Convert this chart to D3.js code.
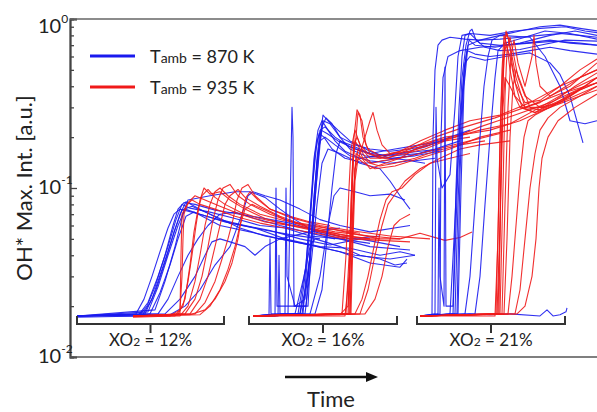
<!DOCTYPE html>
<html><head><meta charset="utf-8">
<script src="https://cdn.jsdelivr.net/npm/d3@7"></script>
<style>body{margin:0;background:#fff}svg{display:block}text{font-family:Lato,"Open Sans",sans-serif;fill:#222}</style>
</head><body>
<svg id="chart" width="597" height="412"></svg>
<script>
// ---------- DATA (time in a.u., OH* max intensity in a.u.) ----------
const blue12 = [
 [[7,.0175],[68,.0175],[78,.021],[88,.03],[98,.045],[106,.065],[112,.08],[120,.076],[140,.072],[165,.066],[190,.06],[215,.058],[240,.052],[270,.05],[300,.047]],
 [[7,.0172],[72,.0175],[82,.022],[92,.033],[102,.05],[110,.07],[116,.083],[130,.075],[150,.065],[175,.06],[200,.056],[230,.05],[260,.046],[290,.05],[330,.045]],
 [[7,.0175],[75,.018],[86,.025],[96,.038],[104,.055],[112,.074],[122,.078],[145,.068],[170,.058],[195,.052],[225,.048],[255,.044],[285,.04],[320,.038],[345,.04]],
 [[7,.0175],[80,.018],[90,.024],[100,.035],[108,.05],[116,.068],[124,.072],[150,.06],[180,.055],[210,.05],[240,.046],[270,.042],[300,.036],[330,.034],[337,.038]],
 [[7,.0175],[100,.0178],[115,.02],[130,.025],[145,.035],[160,.045],[172,.07],[178,.09],[183,.095],[195,.09],[210,.085],[230,.075],[250,.065],[270,.06],[300,.055],[340,.06]],
 [[7,.0175],[95,.018],[110,.022],[125,.03],[135,.04],[142,.048],[150,.05],[160,.048],[175,.045],[185,.04],[195,.045],[210,.05],[240,.055],[270,.058]],
 [[7,.0175],[85,.019],[95,.028],[105,.045],[113,.07],[118,.085],[140,.09],[165,.095],[180,.095],[195,.088],[210,.075],[225,.065],[245,.055],[270,.05],[300,.045],[340,.043]],
 [[7,.0175],[70,.0178],[77,.02],[85,.026],[95,.04],[103,.06],[108,.075],[114,.082],[125,.08],[145,.074],[170,.07],[195,.066],[220,.062],[250,.055],[280,.05],[310,.052]],
 [[7,.0175],[88,.018],[98,.022],[108,.03],[118,.04],[128,.05],[138,.06],[150,.07],[165,.072],[185,.066],[210,.06],[235,.055],[265,.05]],
 [[7,.0175],[78,.0185],[88,.026],[98,.04],[108,.06],[115,.075],[130,.07],[155,.063],[185,.058],[215,.05],[250,.045],[280,.044],[310,.04],[330,.042],[345,.04]],
 [[7,.0175],[66,.018],[74,.022],[82,.03],[90,.042],[98,.058],[104,.07],[110,.075],[130,.07],[160,.062],[190,.057],[220,.053],[250,.05]]
];
const red12 = [
 [[63,.0175],[100,.0175],[110,.019],[112,.03],[113,.05],[114,.07],[118,.082],[125,.09],[135,.085],[150,.078],[170,.07],[195,.063],[220,.06],[250,.055],[280,.05],[310,.049],[340,.048]],
 [[63,.0172],[105,.0175],[113,.02],[118,.028],[122,.04],[126,.06],[130,.085],[134,.1],[140,.092],[150,.095],[160,.085],[175,.075],[195,.066],[220,.06],[250,.056],[280,.052]],
 [[63,.0175],[110,.0175],[118,.02],[125,.028],[130,.04],[135,.06],[140,.08],[145,.095],[150,.1],[158,.09],[170,.08],[190,.07],[215,.064],[245,.06],[275,.055],[310,.05]],
 [[63,.0175],[115,.018],[125,.022],[132,.03],[138,.045],[143,.065],[148,.085],[153,.1],[160,.105],[168,.09],[180,.08],[200,.07],[225,.062],[255,.058],[290,.054]],
 [[63,.0175],[120,.018],[130,.022],[138,.03],[145,.045],[150,.06],[155,.08],[160,.09],[168,.098],[175,.088],[190,.078],[210,.068],[235,.06],[265,.055],[300,.052],[330,.05]],
 [[63,.0175],[125,.018],[135,.021],[145,.028],[152,.038],[158,.05],[163,.065],[167,.085],[172,.1],[178,.105],[185,.09],[200,.075],[220,.067],[250,.06],[280,.056],[320,.052],[360,.05]],
 [[63,.0175],[130,.0178],[140,.02],[150,.025],[158,.033],[165,.045],[170,.06],[175,.075],[182,.08],[195,.074],[215,.065],[240,.058],[270,.052],[300,.05],[330,.05],[350,.054],[375,.049],[390,.051],[402,.055]],
 [[63,.0175],[120,.0178],[135,.019],[145,.022],[155,.028],[162,.036],[168,.05],[172,.07],[176,.088],[180,.095],[188,.085],[200,.075],[220,.068],[240,.063],[260,.06]],
 [[63,.0175],[108,.0178],[115,.022],[120,.035],[124,.055],[128,.075],[132,.09],[138,.098],[145,.088],[155,.08],[170,.072],[190,.066],[210,.062],[240,.058],[270,.053],[300,.05]],
 [[63,.0175],[110,.018],[111,.04],[112,.07],[116,.078],[122,.085],[130,.08],[145,.075],[165,.068],[190,.062],[215,.058],[245,.054],[275,.05]]
];
const blue16 = [
 [[183,.0175],[199,.0175],[200,.05],[201,.018],[230,.018],[235,.03],[240,.07],[244,.15],[248,.22],[252,.25],[258,.22],[265,.19],[275,.165],[290,.15],[310,.155],[330,.16],[350,.165],[370,.17]],
 [[183,.0175],[208,.0175],[209,.04],[210,.018],[218,.018],[222,.3],[223,.2],[224,.02],[236,.02],[240,.04],[244,.09],[248,.16],[252,.23],[256,.26],[262,.24],[270,.2],[280,.17],[295,.155],[320,.15],[345,.155],[370,.165]],
 [[183,.0175],[215,.018],[216,.1],[217,.03],[225,.02],[235,.022],[242,.05],[246,.1],[250,.18],[253,.25],[260,.24],[270,.2],[285,.18],[300,.17],[320,.165],[340,.17],[360,.18]],
 [[183,.0175],[230,.018],[238,.03],[243,.06],[247,.12],[250,.2],[253,.27],[258,.25],[268,.22],[280,.19],[300,.165],[320,.15],[345,.145],[365,.15]],
 [[183,.0175],[232,.018],[240,.04],[244,.08],[247,.14],[250,.19],[255,.2],[265,.18],[280,.155],[300,.145],[320,.14],[340,.145],[355,.14]],
 [[183,.0175],[245,.018],[252,.025],[257,.05],[262,.1],[266,.16],[270,.19],[280,.18],[300,.16],[320,.155],[350,.16],[370,.17]],
 [[183,.0175],[225,.018],[234,.03],[240,.045],[245,.05],[255,.048],[270,.045],[290,.04],[310,.038],[325,.035],[337,.036]],
 [[183,.0175],[235,.018],[242,.04],[247,.08],[252,.14],[258,.17],[270,.16],[290,.14],[310,.13],[320,.11],[330,.09],[340,.075]],
 [[183,.0175],[240,.018],[250,.03],[258,.06],[264,.09],[270,.1],[285,.095],[300,.09],[320,.092],[335,.085]],
 [[183,.0175],[205,.0175],[206,.1],[207,.02],[238,.02],[243,.07],[247,.15],[250,.22],[255,.23],[265,.2],[280,.175],[300,.16],[325,.17],[350,.18],[375,.19]],
 [[183,.0175],[228,.018],[236,.035],[241,.08],[245,.16],[249,.21],[254,.2],[262,.17],[275,.15],[295,.14],[315,.145],[340,.155],[365,.17],[390,.19]],
 [[183,.0175],[233,.018],[239,.05],[243,.11],[247,.19],[251,.22],[257,.21],[268,.19],[285,.17],[305,.155],[330,.16],[355,.175],[380,.2],[400,.22]]
];
const red16 = [
 [[183,.0175],[275,.0175],[279,.03],[281,.08],[283,.15],[286,.2],[288,.28],[292,.25],[296,.18],[300,.16],[315,.15],[335,.16],[355,.17],[375,.19],[400,.2]],
 [[183,.0175],[276,.018],[280,.05],[282,.12],[284,.2],[287,.29],[290,.27],[293,.2],[298,.17],[310,.155],[330,.165],[350,.18],[375,.2],[400,.21],[420,.22],[450,.25],[480,.3],[510,.35],[527,.38]],
 [[183,.0175],[278,.018],[281,.06],[283,.14],[285,.19],[290,.17],[296,.15],[302,.14],[312,.145],[330,.15],[350,.16],[375,.175],[400,.19],[430,.21]],
 [[183,.0175],[280,.018],[283,.07],[285,.13],[290,.16],[295,.2],[300,.25],[303,.28],[307,.22],[312,.18],[320,.16],[340,.165],[360,.18],[385,.2],[410,.22],[440,.24],[470,.3],[500,.38],[527,.45]],
 [[183,.0175],[270,.0178],[278,.02],[282,.06],[285,.13],[288,.17],[293,.15],[300,.14],[310,.135],[325,.14],[345,.15],[365,.165],[390,.18],[415,.19]],
 [[183,.0175],[285,.018],[292,.022],[298,.03],[304,.045],[310,.065],[316,.085],[322,.095],[332,.1],[345,.12],[360,.14],[380,.15],[400,.16]],
 [[183,.0175],[290,.018],[298,.025],[305,.04],[312,.06],[318,.08],[324,.09],[335,.11],[350,.13],[370,.15],[390,.17],[410,.18],[440,.19]],
 [[183,.0175],[280,.018],[284,.1],[286,.16],[292,.15],[300,.13],[315,.14],[330,.15],[345,.17],[365,.19],[385,.2],[410,.23],[445,.27],[480,.32],[515,.4]],
 [[183,.0175],[272,.018],[276,.04],[279,.1],[281,.17],[285,.22],[290,.18],[298,.16],[310,.15],[330,.165],[350,.19],[375,.22],[400,.25],[430,.27],[460,.32],[490,.4],[527,.5]],
 [[183,.0175],[295,.018],[305,.022],[312,.03],[318,.045],[324,.06],[330,.065],[340,.07]],
 [[183,.0175],[279,.018],[282,.09],[284,.18],[287,.2],[292,.17],[300,.15],[318,.15],[340,.17],[365,.2],[395,.23],[425,.26],[455,.3],[490,.36],[527,.42]],
 [[183,.0175],[281,.018],[283,.05],[285,.11],[288,.15],[294,.14],[305,.13],[325,.135],[350,.15],[380,.17],[410,.2],[440,.22]]
];
const blue21 = [
 [[350,.0175],[362,.0175],[363,.2],[365,.5],[368,.7],[372,.75],[380,.78],[395,.76],[410,.75],[430,.76],[450,.78],[470,.8],[490,.82],[510,.8],[527,.78]],
 [[350,.0175],[368,.018],[369,.1],[370,.03],[374,.02],[375,.52],[376,.02],[383,.02],[386,.1],[389,.3],[392,.6],[395,.8],[400,.82],[410,.72],[430,.7],[455,.72],[480,.75],[500,.72],[527,.7]],
 [[350,.0175],[383,.018],[386,.06],[389,.2],[392,.45],[396,.7],[400,.85],[402,.87],[406,.75],[415,.68],[430,.65],[450,.66],[470,.7],[495,.75],[527,.74]],
 [[350,.0175],[385,.018],[388,.08],[391,.25],[394,.5],[397,.65],[405,.62],[420,.6],[440,.62],[460,.65],[480,.68],[500,.65],[527,.62]],
 [[350,.0175],[380,.018],[384,.05],[388,.15],[392,.35],[395,.55],[400,.6],[415,.57],[435,.6],[460,.63],[480,.55],[490,.47],[500,.35],[513,.185]],
 [[350,.0175],[395,.018],[400,.03],[405,.08],[410,.2],[414,.4],[418,.6],[422,.75],[430,.8],[450,.85],[470,.9],[490,.92],[510,.88],[527,.85]],
 [[350,.0175],[405,.018],[410,.03],[415,.08],[420,.2],[425,.45],[428,.65],[435,.72],[455,.78],[475,.85],[500,.82],[527,.76]],
 [[350,.0175],[365,.018],[366,.3],[367,.15],[372,.1],[380,.12],[385,.3],[388,.6],[392,.8],[400,.82],[420,.8],[445,.85],[470,.88],[495,.9],[515,.85],[527,.83]],
 [[350,.0175],[400,.018],[420,.0178],[440,.018],[470,.0175],[477,.019],[483,.0175],[490,.0178],[496,.0185],[497,.0195]],
 [[350,.0175],[388,.018],[391,.1],[394,.4],[398,.7],[410,.75],[430,.8],[460,.78],[475,.6],[490,.4],[500,.25],[515,.24],[527,.25]],
 [[350,.0175],[370,.018],[371,.2],[373,.45],[378,.6],[390,.65],[410,.68],[435,.7],[460,.72],[485,.74],[510,.72],[527,.7]],
 [[350,.0175],[387,.018],[390,.12],[393,.35],[396,.6],[399,.75],[405,.7],[425,.68],[450,.72],[480,.8],[505,.85],[527,.8]]
];
const red21 = [
 [[350,.0175],[425,.0175],[428,.05],[430,.2],[432,.5],[434,.8],[437,.7],[440,.5],[445,.35],[455,.3],[470,.32],[490,.38],[510,.45],[527,.5]],
 [[350,.0175],[427,.018],[430,.06],[432,.25],[434,.6],[436,.85],[439,.75],[442,.55],[446,.4],[452,.3],[465,.28],[485,.33],[505,.4],[527,.48]],
 [[350,.0175],[430,.018],[433,.1],[435,.35],[437,.65],[440,.78],[444,.6],[448,.45],[455,.35],[470,.3],[490,.32],[510,.38],[527,.42]],
 [[350,.0175],[432,.018],[435,.08],[438,.3],[441,.6],[444,.75],[448,.55],[455,.4],[462,.6],[464,.8],[466,.55],[470,.4],[480,.35],[500,.4],[527,.55]],
 [[350,.0175],[428,.018],[431,.1],[433,.3],[435,.45],[440,.4],[450,.3],[465,.28],[480,.3],[500,.35],[527,.45]],
 [[350,.0175],[438,.018],[442,.03],[446,.06],[450,.12],[454,.2],[458,.25],[465,.27],[480,.3],[500,.36],[527,.42]],
 [[350,.0175],[445,.018],[450,.025],[455,.05],[460,.1],[465,.16],[470,.22],[478,.26],[490,.3],[510,.35],[527,.4]],
 [[350,.0175],[447,.018],[455,.02],[462,.03],[466,.05],[469,.1],[472,.15],[478,.2],[488,.25],[505,.3],[527,.36]],
 [[350,.0175],[426,.018],[429,.1],[431,.3],[433,.55],[436,.7],[440,.6],[445,.42],[455,.32],[470,.33],[490,.4],[510,.5],[527,.58]],
 [[350,.0175],[434,.018],[437,.05],[440,.2],[443,.4],[446,.5],[452,.4],[460,.3],[475,.3],[495,.34],[515,.4],[527,.45]],
 [[350,.0175],[429,.018],[431,.15],[433,.45],[435,.75],[437,.82],[441,.65],[446,.45],[455,.3],[470,.29],[495,.33],[527,.4]]
];
const groupLabels = ["12%", "16%", "21%"];
const bracketStart = [7, 179, 347];
const bracketEnd = [154, 327, 495];
const majorTicks = [0.01, 0.1, 1];
const majorExp = ["-2", "-1", "0"];
const legendTemps = ["870 K", "935 K"];
const yLabel = "OH* Max. Int. [a.u.]";
const xLabel = "Time";

// ---------- CHART ----------
const svg = d3.select("#chart");
const pL = 70, pR = 597, pT = 19, pB = 357;
const x = d3.scaleLinear().domain([0, 527]).range([pL, pR]);
const y = d3.scaleLog().domain([0.01, 1]).range([pB, pT]);
const BLUE = "#1a1aee", RED = "#f01a1a";

svg.append("clipPath").attr("id", "clip").append("rect")
  .attr("x", pL).attr("y", pT).attr("width", pR - pL).attr("height", pB - pT);

const line = d3.line().x(d => x(d[0])).y(d => y(d[1]));
const plot = svg.append("g").attr("clip-path", "url(#clip)");
const sets = [[blue12, BLUE], [red12, RED], [blue16, BLUE], [red16, RED], [blue21, BLUE], [red21, RED]];
sets.forEach(([traces, col]) => {
  plot.append("g").selectAll("path").data(traces).join("path")
    .attr("d", line).attr("fill", "none").attr("stroke", col)
    .attr("stroke-width", 1.1).attr("stroke-linejoin", "round").attr("stroke-opacity", 0.9);
});

// axes frame
const minorTicks = [];
[0.01, 0.1].forEach(b => { for (let k = 2; k <= 9; k++) minorTicks.push(b * k); });
const axMinor = svg.append("g").attr("transform", `translate(${pL},0)`)
  .call(d3.axisLeft(y).tickValues(minorTicks).tickSize(-4).tickFormat(""));
const axMajor = svg.append("g").attr("transform", `translate(${pL},0)`)
  .call(d3.axisLeft(y).tickValues(majorTicks).tickSize(-7).tickFormat(""));
[axMinor, axMajor].forEach(a => {
  a.selectAll("line").attr("stroke", "#444").attr("stroke-width", 1.3);
  a.select(".domain").attr("stroke", "#444").attr("stroke-width", 1.8);
});
svg.append("line").attr("x1", pL).attr("x2", pR).attr("y1", y(1)).attr("y2", y(1))
  .attr("stroke", "#666").attr("stroke-width", 1.6);
svg.append("line").attr("x1", pL).attr("x2", pR).attr("y1", y(0.01)).attr("y2", y(0.01))
  .attr("stroke", "#555").attr("stroke-width", 1.6);

// tick labels
majorTicks.forEach((v, i) => {
  const yy = Math.max(y(v), 27);
  const t = svg.append("text").attr("x", 38).attr("y", yy + 6).attr("font-size", 20);
  t.append("tspan").text("10");
  t.append("tspan").attr("dy", -10).attr("font-size", 12).text(majorExp[i]);
});

// y label
svg.append("text").attr("transform", `translate(32,188) rotate(-90)`)
  .attr("text-anchor", "middle").attr("font-size", 22).text(yLabel);

// legend
legendTemps.forEach((lab, i) => {
  const yy = 56 + i * 31;
  svg.append("line").attr("x1", 90).attr("x2", 135).attr("y1", yy).attr("y2", yy)
    .attr("stroke", i ? RED : BLUE).attr("stroke-width", 3);
  const t = svg.append("text").attr("x", 150).attr("y", yy + 7).attr("font-size", 18);
  t.append("tspan").text("T");
  t.append("tspan").attr("font-size", 14).text("amb");
  t.append("tspan").text(" = " + lab);
});

// brackets
groupLabels.forEach((lab, i) => {
  const x0 = x(bracketStart[i]), x1 = x(bracketEnd[i]), xc = (x0 + x1) / 2;
  svg.append("path").attr("d", `M${x0},316V324H${x1}V316M${xc},324V333`)
    .attr("fill", "none").attr("stroke", "#333").attr("stroke-width", 2);
  const t = svg.append("text").attr("x", xc).attr("y", 346).attr("text-anchor", "middle").attr("font-size", 17);
  t.append("tspan").text("XO");
  t.append("tspan").attr("font-size", 12).text("2");
  t.append("tspan").text(" = " + lab);
});

// time arrow
svg.append("line").attr("x1", 285).attr("x2", 368).attr("y1", 377).attr("y2", 377)
  .attr("stroke", "#111").attr("stroke-width", 2.5);
svg.append("path").attr("d", "M366,372L378,377L366,382Z").attr("fill", "#111");
svg.append("text").attr("x", 331).attr("y", 407).attr("text-anchor", "middle")
  .attr("font-size", 22).text(xLabel);
</script>
</body></html>
